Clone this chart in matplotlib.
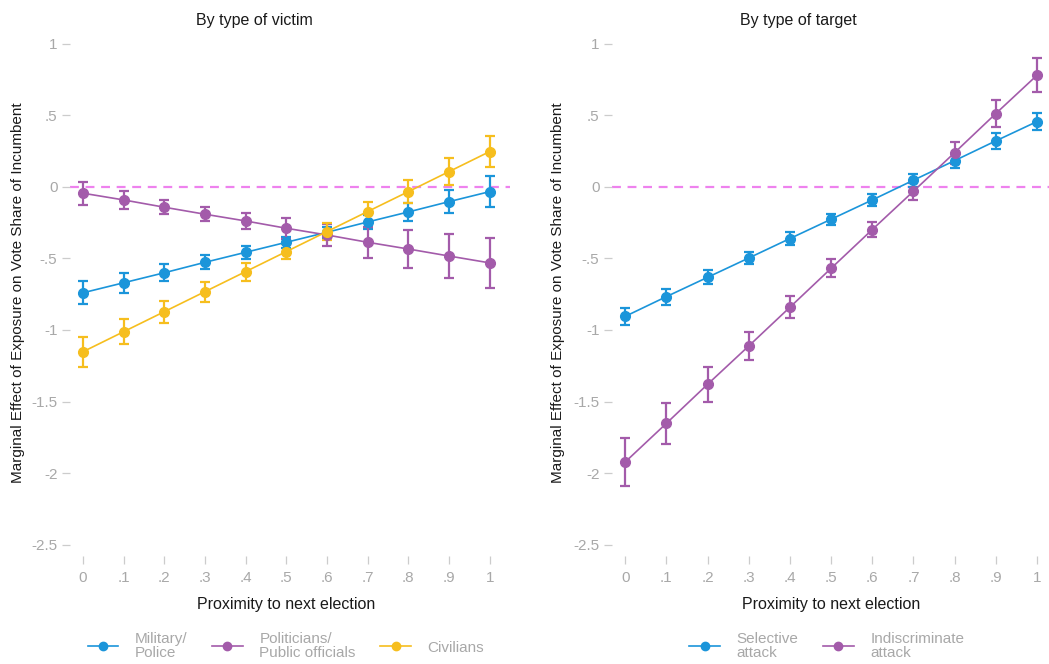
import numpy as np
import matplotlib
matplotlib.use('Agg')
import matplotlib.pyplot as plt

plt.rcParams['font.family'] = ['Liberation Sans', 'DejaVu Sans']

# proximity to next election
x = [0, .1, .2, .3, .4, .5, .6, .7, .8, .9, 1]

# left panel: by type of victim
military = [-0.74, -0.67, -0.60, -0.527, -0.457, -0.387, -0.317, -0.245, -0.175, -0.103, -0.033]
military_err = [0.08, 0.07, 0.06, 0.05, 0.045, 0.04, 0.04, 0.05, 0.06, 0.08, 0.11]
politicians = [-0.044, -0.091, -0.142, -0.191, -0.238, -0.289, -0.336, -0.387, -0.434, -0.483, -0.531]
politicians_err = [0.08, 0.062, 0.05, 0.049, 0.058, 0.075, 0.08, 0.108, 0.134, 0.155, 0.177]
civilians = [-1.152, -1.012, -0.872, -0.732, -0.592, -0.452, -0.312, -0.172, -0.033, 0.107, 0.247]
civilians_err = [0.105, 0.089, 0.077, 0.07, 0.063, 0.052, 0.06, 0.07, 0.082, 0.095, 0.11]

# right panel: by type of target
selective = [-0.905, -0.767, -0.632, -0.497, -0.361, -0.226, -0.091, 0.047, 0.184, 0.322, 0.457]
selective_err = [0.058, 0.055, 0.05, 0.045, 0.043, 0.04, 0.04, 0.045, 0.049, 0.054, 0.058]
indiscriminate = [-1.923, -1.653, -1.38, -1.112, -0.841, -0.569, -0.298, -0.030, 0.240, 0.513, 0.781]
indiscriminate_err = [0.17, 0.143, 0.12, 0.097, 0.078, 0.062, 0.055, 0.058, 0.077, 0.097, 0.119]

yticks = [1, .5, 0, -.5, -1, -1.5, -2, -2.5]
ytick_labels = ['1', '.5', '0', '-.5', '-1', '-1.5', '-2', '-2.5']
xtick_labels = ['0', '.1', '.2', '.3', '.4', '.5', '.6', '.7', '.8', '.9', '1']

BLUE = '#1b95da'
PURPLE = '#a35baa'
YELLOW = '#f6be1e'
GRAY = '#a8a8a8'
DARK = '#1a1a1a'

W, H = 1049, 664
fig = plt.figure(figsize=(W / 100, H / 100), dpi=100)

def px(x0, x1, y0, y1):
  return [x0 / W, 1 - y1 / H, (x1 - x0) / W, (y1 - y0) / H]

def setup(ax):
  ax.set_ylim(-2.58, 1.02)
  ax.set_yticks(yticks)
  ax.set_yticklabels(ytick_labels)
  ax.set_xticks(x)
  ax.set_xticklabels(xtick_labels)
  for s in ax.spines.values():
    s.set_visible(False)
  ax.tick_params(axis='both', colors='#cccccc', labelcolor=GRAY, labelsize=11, length=6, width=0.9)
  ax.tick_params(axis='y', pad=3)
  ax.tick_params(axis='x', pad=5)
  ax.axhline(0, color='#ee82ee', linestyle=(0, (4, 3)), linewidth=1.6, zorder=1)

def series(ax, y, err, color, label):
  return ax.errorbar(x, y, yerr=err, color=color, marker='o', markersize=7, linewidth=1.2,
                     elinewidth=1.6, capsize=3.5, capthick=1.6, label=label, zorder=3)

# left panel
ax1 = fig.add_axes(px(70, 510, 41, 556))
ax1.set_xlim(-0.032, 1.05)
setup(ax1)
series(ax1, military, military_err, BLUE, 'Military/\nPolice')
series(ax1, politicians, politicians_err, PURPLE, 'Politicians/\nPublic officials')
series(ax1, civilians, civilians_err, YELLOW, 'Civilians')

# right panel
ax2 = fig.add_axes(px(612, 1049, 41, 556))
ax2.set_xlim(-0.032, 1.029)
setup(ax2)
series(ax2, selective, selective_err, BLUE, 'Selective\nattack')
series(ax2, indiscriminate, indiscriminate_err, PURPLE, 'Indiscriminate\nattack')

# titles and axis labels
fig.text(254 / W, 1 - 20 / H, 'By type of victim', ha='center', va='center', fontsize=11.5, color=DARK)
fig.text(798 / W, 1 - 20 / H, 'By type of target', ha='center', va='center', fontsize=11.5, color=DARK)
ylab = 'Marginal Effect of Exposure on Vote Share of Incumbent'
fig.text(18 / W, 1 - 293 / H, ylab, rotation=90, ha='center', va='center', fontsize=11, color=DARK)
fig.text(558 / W, 1 - 293 / H, ylab, rotation=90, ha='center', va='center', fontsize=11, color=DARK)
fig.text(286 / W, 1 - 605 / H, 'Proximity to next election', ha='center', va='center', fontsize=11.5, color=DARK)
fig.text(831 / W, 1 - 605 / H, 'Proximity to next election', ha='center', va='center', fontsize=11.5, color=DARK)

# legends
def legend_handle(color):
  return plt.Line2D([0], [0], color=color, marker='o', markersize=6, linewidth=1.2)

leg_kw = dict(loc='center', frameon=False, fontsize=11, labelcolor=GRAY, handlelength=2.0,
              handletextpad=1.1, columnspacing=1.6, labelspacing=0.1)
leg1 = fig.legend([legend_handle(BLUE), legend_handle(PURPLE), legend_handle(YELLOW)],
                  ['Military/\nPolice', 'Politicians/\nPublic officials', 'Civilians'],
                  bbox_to_anchor=(286 / W, 1 - 646 / H), ncol=3, **leg_kw)
leg2 = fig.legend([legend_handle(BLUE), legend_handle(PURPLE)],
                  ['Selective\nattack', 'Indiscriminate\nattack'],
                  bbox_to_anchor=(827 / W, 1 - 646 / H), ncol=2, **leg_kw)
for leg in (leg1, leg2):
  for t in leg.get_texts():
    t.set_linespacing(0.95)

fig.savefig('out.png', dpi=100)
plt.close(fig)
